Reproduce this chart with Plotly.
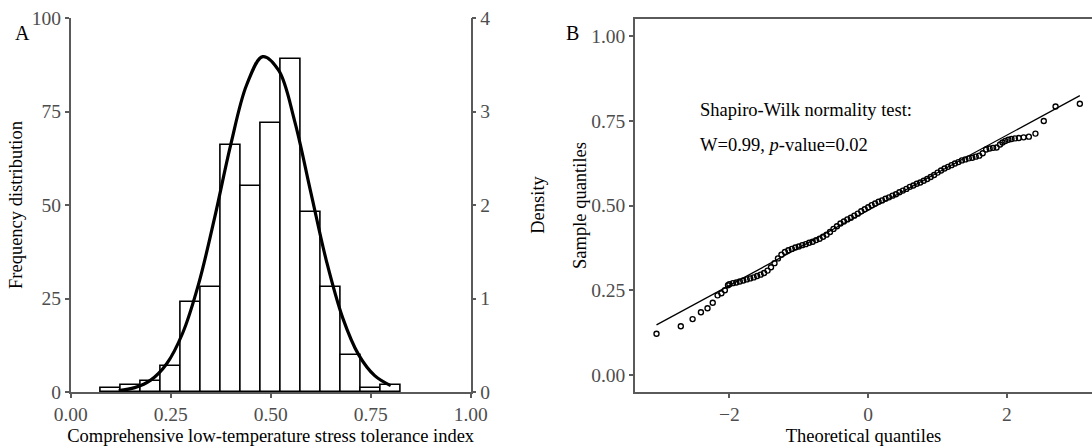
import plotly.graph_objects as go

# ---------------- Panel A data ----------------
bin_centers = [0.10, 0.15, 0.20, 0.25, 0.30, 0.35, 0.40, 0.45, 0.50, 0.55, 0.60, 0.65, 0.70, 0.75, 0.80]
bin_counts = [1, 2, 3, 7, 24, 28, 66, 55, 72, 89, 48, 28, 10, 1, 2]
bin_width = 0.05

curve_x = [0.12, 0.16, 0.20, 0.24, 0.28, 0.32, 0.36, 0.40, 0.44, 0.48,
           0.52, 0.56, 0.60, 0.64, 0.68, 0.72, 0.76, 0.80]
curve_density = [0.015, 0.047, 0.127, 0.302, 0.631, 1.159, 1.868, 2.644, 3.286, 3.587,
                 3.439, 2.895, 2.141, 1.390, 0.793, 0.397, 0.175, 0.068]

# ---------------- Panel B data ----------------
qq_theoretical = [
    -3.05, -2.70, -2.53, -2.41, -2.315, -2.24, -2.17, -2.115, -2.065, -2.02,
    -2.00, -1.95, -1.90, -1.85, -1.80, -1.75, -1.70, -1.65, -1.60, -1.55,
    -1.50, -1.45, -1.40, -1.35, -1.30, -1.25, -1.20, -1.15, -1.10, -1.05,
    -1.00, -0.95, -0.90, -0.85, -0.80, -0.75, -0.70, -0.65, -0.60, -0.55,
    -0.50, -0.45, -0.40, -0.35, -0.30, -0.25, -0.20, -0.15, -0.10, -0.05,
    0.00, 0.05, 0.10, 0.15, 0.20, 0.25, 0.30, 0.35, 0.40, 0.45,
    0.50, 0.55, 0.60, 0.65, 0.70, 0.75, 0.80, 0.85, 0.90, 0.95,
    1.00, 1.05, 1.10, 1.15, 1.20, 1.25, 1.30, 1.35, 1.40, 1.45,
    1.50, 1.55, 1.60, 1.65, 1.70, 1.75, 1.80, 1.85,
    1.90, 1.935, 1.975, 2.02, 2.065, 2.115, 2.17, 2.24, 2.315, 2.41, 2.53, 2.70, 3.05]
qq_sample = [
    0.122, 0.144, 0.165, 0.185, 0.197, 0.213, 0.235, 0.241, 0.250, 0.265,
    0.268, 0.271, 0.273, 0.276, 0.279, 0.282, 0.285, 0.288, 0.292, 0.296,
    0.301, 0.308, 0.318, 0.330, 0.344, 0.355, 0.363, 0.368, 0.372, 0.376,
    0.379, 0.383, 0.386, 0.390, 0.393, 0.398, 0.402, 0.408, 0.414, 0.422,
    0.431, 0.439, 0.447, 0.453, 0.459, 0.464, 0.470, 0.476, 0.483, 0.489,
    0.495, 0.501, 0.506, 0.511, 0.515, 0.520, 0.524, 0.529, 0.533, 0.539,
    0.544, 0.549, 0.555, 0.559, 0.564, 0.568, 0.573, 0.578, 0.584, 0.590,
    0.597, 0.603, 0.609, 0.614, 0.619, 0.624, 0.628, 0.633, 0.636, 0.639,
    0.641, 0.644, 0.647, 0.654, 0.665, 0.668, 0.670, 0.671,
    0.680, 0.686, 0.690, 0.694, 0.696, 0.698, 0.699, 0.701, 0.703, 0.712, 0.749, 0.792, 0.800]

ref_line_x = [-3.05, 3.05]
ref_line_y = [0.148, 0.824]

test_title = "Shapiro-Wilk normality test:"
test_result = "W=0.99, <i>p</i>-value=0.02"

# ---------------- Styling ----------------
FONT = "Liberation Serif"
AXIS_GREY = "#5a5a5a"
TICK_GREY = "#4d4d4d"
W, H = 1092, 446

fig = go.Figure()

fig.add_trace(go.Bar(
    x=bin_centers, y=bin_counts, width=bin_width,
    marker=dict(color="white", line=dict(color="black", width=1.6)),
    xaxis="x", yaxis="y", showlegend=False, hoverinfo="skip"))

fig.add_trace(go.Scatter(
    x=curve_x, y=curve_density, mode="lines",
    line=dict(color="black", width=3.2, shape="spline"),
    xaxis="x", yaxis="y2", showlegend=False))

fig.add_trace(go.Scatter(
    x=ref_line_x, y=ref_line_y, mode="lines",
    line=dict(color="black", width=1.3),
    xaxis="x2", yaxis="y3", showlegend=False))

fig.add_trace(go.Scatter(
    x=qq_theoretical, y=qq_sample, mode="markers",
    marker=dict(symbol="circle-open", size=5, color="black", line=dict(width=1.4)),
    xaxis="x2", yaxis="y3", showlegend=False))

tickfont = dict(family=FONT, size=19.5, color=TICK_GREY)
titlefont = dict(family=FONT, size=18.5, color="black")

common = dict(showgrid=False, zeroline=False, showline=True, linecolor=AXIS_GREY,
              linewidth=1.5, ticks="outside", ticklen=4, tickwidth=1.5,
              tickcolor=AXIS_GREY, tickfont=tickfont, automargin=False)

yA0, yA1 = 1 - 392 / H, 1 - 18 / H
yB0, yB1 = 1 - 392 / H, 1 - 19 / H

fig.update_layout(
    width=W, height=H,
    margin=dict(l=0, r=0, t=0, b=0),
    paper_bgcolor="white", plot_bgcolor="white",
    bargap=0,
    xaxis=dict(domain=[70.7 / W, 470.7 / W], range=[0, 1], anchor="y",
               tickvals=[0, 0.25, 0.5, 0.75, 1.0], tickformat=".2f",
               title=dict(text="Comprehensive low-temperature stress tolerance index",
                          font=titlefont, standoff=6),
               **common),
    yaxis=dict(domain=[yA0, yA1], range=[0, 100], anchor="x",
               tickvals=[0, 25, 50, 75, 100],
               title=dict(text="Frequency distribution", font=titlefont, standoff=4),
               **common),
    yaxis2=dict(domain=[yA0, yA1], range=[0, 4], anchor="x", overlaying="y", side="right",
                tickvals=[0, 1, 2, 3, 4],
                title=dict(text="Density", font=titlefont, standoff=42),
                **common),
    xaxis2=dict(domain=[635 / W, 1.0], range=[-3.36, 3.225], anchor="y3",
                tickvals=[-2, 0, 2], mirror=True,
                title=dict(text="Theoretical quantiles", font=titlefont, standoff=6),
                **common),
    yaxis3=dict(domain=[yB0, yB1], range=[-0.05, 1.05], anchor="x2",
                tickvals=[0, 0.25, 0.5, 0.75, 1.0], tickformat=".2f",
                title=dict(text="Sample quantiles", font=titlefont, standoff=0),
                **common),
    annotations=[
        dict(text="A", x=13 / W, y=1 - 20 / H, xref="paper", yref="paper",
             showarrow=False, font=dict(family=FONT, size=20, color="black")),
        dict(text="B", x=572 / W, y=1 - 20 / H, xref="paper", yref="paper",
             showarrow=False, font=dict(family=FONT, size=20, color="black")),
        dict(text=test_title, x=-2.45, y=0.781, xref="x2", yref="y3",
             xanchor="left", yanchor="middle", showarrow=False,
             font=dict(family=FONT, size=18.5, color="black")),
        dict(text=test_result, x=-2.45, y=0.678, xref="x2", yref="y3",
             xanchor="left", yanchor="middle", showarrow=False,
             font=dict(family=FONT, size=18.5, color="black")),
    ],
)

fig.write_html("out.html", config={"displayModeBar": False},
               post_script="document.body.style.margin='0';document.body.style.padding='0';")
